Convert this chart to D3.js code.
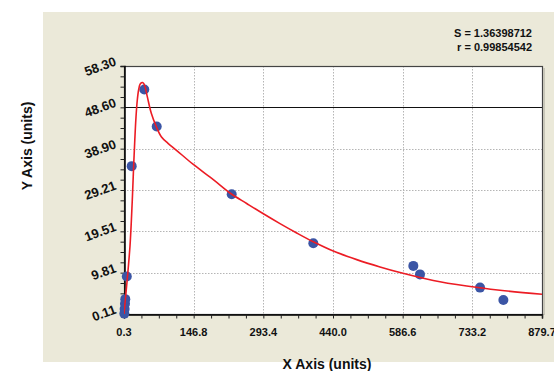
<!DOCTYPE html>
<html lang="en">
<head>
  <meta charset="UTF-8">
  <title>Standard curve</title>
  <script src="https://d3js.org/d3.v7.min.js"></script>
  <style>
    body { margin: 0; background: #fff; font-family: "Liberation Sans", Arial, sans-serif; }
    svg { display: block; }
    text { font-weight: bold; fill: #111; }
  </style>
</head>
<body>
  <script>
    // measured points
    const pointX = [1.0, 1.6, 2.4, 3.0, 6.2, 16.5, 43.0, 69.1, 226.9, 398.6, 609.0, 623.0, 749.3, 798.4];
    const pointY = [0.2, 1.3, 2.5, 3.6, 8.9, 34.8, 52.8, 44.1, 28.2, 16.7, 11.4, 9.4, 6.3, 3.4];

    // fitted curve
    const curveX = [0.3, 3.46, 6.61, 9.77, 12.92, 15.66, 18.18, 20.50, 23.02, 25.55, 28.28, 31.02, 33.96,
      37.12, 39.22, 41.74, 44.48, 49.32, 57.73, 68.25, 78.77, 92.87, 110.75, 146.1, 188.2, 223.3,
      258.4, 290.0, 328.5, 363.6, 398.6, 440.6, 489.9, 538.9, 581.0, 651.0, 721.3, 791.3, 879.7];
    const curveY = [0.11, 3.86, 7.62, 11.61, 16.07, 21.70, 28.03, 34.60, 40.94, 46.33, 50.32, 52.67, 53.96,
      54.36, 54.41, 54.20, 53.49, 51.10, 47.20, 44.06, 41.71, 40.16, 38.52, 35.19, 31.62, 28.50,
      26.04, 23.86, 21.32, 19.12, 17.05, 14.87, 12.87, 11.16, 9.85, 7.99, 6.68, 5.69, 4.73];

    const xTicks = [0.3, 146.8, 293.4, 440.0, 586.6, 733.2, 879.7];
    const xTickLabels = ["0.3", "146.8", "293.4", "440.0", "586.6", "733.2", "879.7"];
    const yTicks = [0.11, 9.81, 19.51, 29.21, 38.90, 48.60, 58.30];
    const yTickLabels = ["0.11", "9.81", "19.51", "29.21", "38.90", "48.60", "58.30"];
    const refLine = 48.60;
    const statLines = ["S = 1.36398712", "r = 0.99854542"];

    const W = 554, H = 371;
    const plot = { left: 124, right: 542, top: 66, bottom: 314 };

    const svg = d3.select("body").append("svg")
      .attr("width", W).attr("height", H);

    // beige panel
    svg.append("rect")
      .attr("x", 43).attr("y", 12)
      .attr("width", W - 43).attr("height", 350)
      .attr("fill", "#ebe9d9");

    const x = d3.scaleLinear().domain([0.3, 879.7]).range([plot.left, plot.right]);
    const y = d3.scaleLinear().domain([0.11, 58.30]).range([plot.bottom, plot.top]);

    // plot background
    svg.append("rect")
      .attr("x", plot.left).attr("y", plot.top)
      .attr("width", plot.right - plot.left).attr("height", plot.bottom - plot.top)
      .attr("fill", "#fff");

    svg.append("defs").append("clipPath").attr("id", "clip")
      .append("rect")
      .attr("x", plot.left).attr("y", plot.top)
      .attr("width", plot.right - plot.left).attr("height", plot.bottom - plot.top);

    // grid
    const grid = svg.append("g").attr("stroke", "#b5b5b5").attr("stroke-dasharray", "1.5,1.5");
    grid.selectAll("line.vx")
      .data(xTicks.slice(1, -1))
      .join("line")
      .attr("x1", d => Math.round(x(d)) + 0.5).attr("x2", d => Math.round(x(d)) + 0.5)
      .attr("y1", plot.top).attr("y2", plot.bottom);
    grid.selectAll("line.hy")
      .data(yTicks.slice(1, -1).filter(d => d !== refLine))
      .join("line")
      .attr("y1", d => Math.round(y(d)) + 0.5).attr("y2", d => Math.round(y(d)) + 0.5)
      .attr("x1", plot.left).attr("x2", plot.right);

    // reference line
    svg.append("line")
      .attr("x1", plot.left).attr("x2", plot.right)
      .attr("y1", Math.round(y(refLine)) + 0.5).attr("y2", Math.round(y(refLine)) + 0.5)
      .attr("stroke", "#111").attr("stroke-width", 1.2);

    // border: top/right grey, shadow
    svg.append("rect")
      .attr("x", plot.left + 0.5).attr("y", plot.top + 0.5)
      .attr("width", plot.right - plot.left).attr("height", plot.bottom - plot.top)
      .attr("fill", "none").attr("stroke", "#444").attr("stroke-width", 1.2);
    svg.append("line")
      .attr("x1", plot.right + 2).attr("x2", plot.right + 2)
      .attr("y1", plot.top + 2).attr("y2", plot.bottom + 1)
      .attr("stroke", "#c8c6b8").attr("stroke-width", 2);

    // axes with minor ticks
    const xMinor = d3.range(0, 25).map(i => 0.3 + i * (879.4 / 24));
    const yMinor = d3.range(0, 25).map(i => 0.11 + i * (58.19 / 24));

    const xAxis = svg.append("g")
      .attr("transform", `translate(0,${plot.bottom + 0.5})`)
      .call(d3.axisBottom(x).tickValues(xMinor).tickSize(4).tickFormat(""));
    xAxis.select(".domain").attr("stroke", "#000").attr("stroke-width", 1.5);
    xAxis.selectAll(".tick line").attr("stroke", "#222");

    svg.append("g")
      .selectAll("text")
      .data(xTicks)
      .join("text")
      .attr("x", d => x(d))
      .attr("y", 336)
      .attr("text-anchor", "middle")
      .attr("font-size", 11)
      .text((d, i) => xTickLabels[i]);

    const yAxis = svg.append("g")
      .attr("transform", `translate(${plot.left + 0.5},0)`)
      .call(d3.axisLeft(y).tickValues(yMinor).tickSize(4).tickFormat(""));
    yAxis.select(".domain").attr("stroke", "#000").attr("stroke-width", 1.5);
    yAxis.selectAll(".tick line").attr("stroke", "#222");

    svg.append("g")
      .selectAll("text")
      .data(yTicks)
      .join("text")
      .attr("transform", d => `translate(117,${y(d) - 1}) rotate(-20)`)
      .attr("text-anchor", "end")
      .attr("font-size", 13)
      .text((d, i) => yTickLabels[i]);

    // curve
    const line = d3.line()
      .x(d => x(d[0]))
      .y(d => y(d[1]))
      .curve(d3.curveCatmullRom.alpha(0.5));

    svg.append("g")
      .selectAll("circle")
      .data(pointX.map((v, i) => [v, pointY[i]]))
      .join("circle")
      .attr("cx", d => x(d[0]))
      .attr("cy", d => y(d[1]))
      .attr("r", 5)
      .attr("fill", "#3b55a5");

    svg.append("g").attr("clip-path", "url(#clip)")
      .append("path")
      .datum(curveX.map((v, i) => [v, curveY[i]]))
      .attr("d", line)
      .attr("fill", "none")
      .attr("stroke", "#ec1c24")
      .attr("stroke-width", 1.6);

    // stats
    svg.append("g")
      .selectAll("text")
      .data(statLines)
      .join("text")
      .attr("x", 532)
      .attr("y", (d, i) => 37 + i * 14)
      .attr("text-anchor", "end")
      .attr("font-size", 11)
      .text(d => d);

    // axis titles
    svg.append("text")
      .attr("x", 327).attr("y", 369)
      .attr("text-anchor", "middle")
      .attr("font-size", 14)
      .text("X Axis (units)");

    svg.append("text")
      .attr("transform", "translate(32,146) rotate(-90)")
      .attr("text-anchor", "middle")
      .attr("font-size", 14)
      .text("Y Axis (units)");
  </script>
</body>
</html>
